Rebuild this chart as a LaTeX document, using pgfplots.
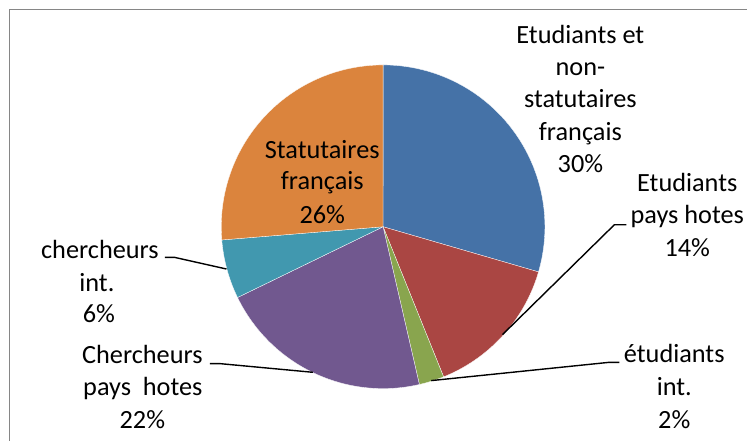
\documentclass[border=0pt]{standalone}
\usepackage{pgfplots}
\pgfplotsset{compat=1.18}
\usepackage{pgfplotstable}
\usepackage{fontspec}
\setmainfont{Carlito}
\definecolor{pie0}{HTML}{4572A7}
\definecolor{pie1}{HTML}{AA4643}
\definecolor{pie2}{HTML}{89A54E}
\definecolor{pie3}{HTML}{71588F}
\definecolor{pie4}{HTML}{4198AF}
\definecolor{pie5}{HTML}{DB843D}
\definecolor{frame}{HTML}{868686}
\pgfplotstableread{
idx pct
0 29.5
1 14.4
2 2.5
3 21.4
4 5.9
5 26.3
}\piedata
\begin{document}
\begin{tikzpicture}[lbl/.style={anchor=base,inner sep=0pt,font=\fontsize{26.3}{31}\selectfont}]
\begin{axis}[width=748pt,height=441pt,scale only axis,
  xmin=0,xmax=748,ymin=0,ymax=441,hide axis,clip=false]
\addplot[draw=none] coordinates {(0,0) (748,441)};
% frame
\addplot[frame,line width=1.6pt] coordinates {(9.5,0) (9.5,431.5) (748,431.5)};
% pie wedges
\def\cum{0}
\pgfplotsforeachungrouped \i in {0,1,2,3,4,5}{%
  \pgfplotstablegetelem{\i}{pct}\of\piedata
  \pgfmathsetmacro\a{90-3.6*\cum}%
  \pgfmathsetmacro\newcum{\cum+\pgfplotsretval}%
  \pgfmathsetmacro\b{90-3.6*\newcum}%
  \edef\temp{\noexpand\addplot[fill=pie\i,draw=white,line width=0.3pt,domain=\b:\a,samples=90] ({383.5+162*cos(x)},{214+162*sin(x)}) -- (axis cs:383.5,214) -- cycle;}%
  \temp
  \global\let\cum\newcum
}
% leader lines
\addplot[black,line width=1.4pt] coordinates {(503,106) (615,216) (627,216)};
\addplot[black,line width=1.4pt] coordinates {(431.7,60) (610,78.3) (620,78.3)};
\addplot[black,line width=1.4pt] coordinates {(226.7,171.7) (175,183.3) (165,183.3)};
\addplot[black,line width=1.4pt] coordinates {(313.3,68.3) (220,77) (210,77)};
% labels
\node[lbl] at (axis cs:581,397.7) {Etudiants et};
\node[lbl] at (axis cs:581,365.3) {non-};
\node[lbl] at (axis cs:581,332.9) {statutaires};
\node[lbl] at (axis cs:581,300.5) {français};
\node[lbl] at (axis cs:581,268.1) {30\%};
\node[lbl] at (axis cs:688,249.3) {Etudiants};
\node[lbl] at (axis cs:688,216.8) {pays hotes};
\node[lbl] at (axis cs:688,184.3) {14\%};
\node[lbl] at (axis cs:675,78) {étudiants};
\node[lbl] at (axis cs:675,45) {int.};
\node[lbl] at (axis cs:675,12) {2\%};
\node[lbl] at (axis cs:100,182.7) {chercheurs};
\node[lbl] at (axis cs:97,149.3) {int.};
\node[lbl] at (axis cs:99,117.7) {6\%};
\node[lbl] at (axis cs:142.5,77) {Chercheurs};
\node[lbl] at (axis cs:143,45.3) {pays\ \ hotes};
\node[lbl] at (axis cs:142.5,11.7) {22\%};
\node[lbl] at (axis cs:322.6,282.7) {Statutaires};
\node[lbl] at (axis cs:322.6,251) {français};
\node[lbl] at (axis cs:322.6,217.7) {26\%};
\end{axis}
\end{tikzpicture}
\end{document}
